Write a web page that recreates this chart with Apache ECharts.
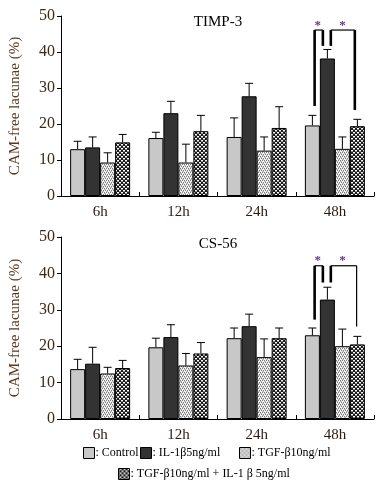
<!DOCTYPE html>
<html><head><meta charset="utf-8">
<script src="https://cdn.jsdelivr.net/npm/echarts@6/dist/echarts.min.js"></script>
<style>html,body{margin:0;padding:0;background:#fff}#c{width:379px;height:491px}</style>
</head><body><div id="c"></div>
<script>
const categories = ['6h','12h','24h','48h'];
const seriesNames = ['Control','IL-1β5ng/ml','TGF-β10ng/ml','TGF-β10ng/ml + IL-1 β 5ng/ml'];
const yTicks = [0,10,20,30,40,50];

// TIMP-3 means and SD
const timpControl = [13.0,16.1,16.4,19.6];
const timpControlSD = [2.2,1.6,5.3,2.8];
const timpIL = [13.5,23.0,27.7,38.2];
const timpILSD = [2.9,3.3,3.6,2.5];
const timpTGF = [9.3,9.3,12.6,13.1];
const timpTGFSD = [2.7,5.1,3.8,3.3];
const timpCombo = [14.9,18.0,18.9,19.4];
const timpComboSD = [2.2,4.4,5.9,1.9];

// CS-56 means and SD
const csControl = [13.7,19.7,22.2,23.0];
const csControlSD = [2.7,2.5,2.8,2.0];
const csIL = [15.2,22.5,25.5,32.8];
const csILSD = [4.5,3.4,3.3,3.4];
const csTGF = [12.5,14.7,17.0,20.0];
const csTGFSD = [1.7,3.3,5.0,4.7];
const csCombo = [14.0,18.0,22.2,20.5];
const csComboSD = [2.1,3.0,2.8,2.2];

// significance brackets: [category, barPos1, y1, barPos2, y2, thick]
const timpBrackets = [
  [3, 0.15, 25.0, 0.15, 46.1, 1],
  [3, 0.15, 46.1, 0.70, 46.1, 0],
  [3, 0.70, 46.1, 0.70, 41.7, 1],
  [3, 1.23, 41.7, 1.23, 46.1, 1],
  [3, 1.23, 46.1, 2.83, 46.1, 0],
  [3, 2.83, 46.1, 2.83, 23.9, 1]
];
const timpStars = [[3, 0.35, 47.4], [3, 2.0, 47.4]];
const csBrackets = [
  [3, 0.15, 27.3, 0.15, 42.1, 1],
  [3, 0.15, 42.1, 0.70, 42.1, 0],
  [3, 0.70, 42.1, 0.70, 37.5, 1],
  [3, 1.23, 37.5, 1.23, 42.1, 1],
  [3, 1.23, 42.1, 2.95, 42.1, 0],
  [3, 2.95, 42.1, 2.95, 25.4, 0]
];
const csStars = [[3, 0.35, 43.4], [3, 2.0, 43.4]];

const BAR_W = 15;
const serif = '"Liberation Serif","DejaVu Serif",serif';

function makePattern(kind){
  const c = document.createElement('canvas');
  const ctx = c.getContext('2d');
  c.width = 4; c.height = 4;
  if (kind === 'tgf') {
    ctx.fillStyle = '#f4f4f4'; ctx.fillRect(0,0,4,4);
    ctx.fillStyle = '#7a7a7a';
    ctx.fillRect(0,0,1,1); ctx.fillRect(2,0,1,1);
    ctx.fillRect(1,2,1,1); ctx.fillRect(3,2,1,1);
    ctx.fillStyle = '#b8b8b8';
    ctx.fillRect(0,1,1,1); ctx.fillRect(2,3,1,1); ctx.fillRect(1,1,1,1); ctx.fillRect(3,3,1,1);
  } else {
    ctx.fillStyle = '#1a1a1a'; ctx.fillRect(0,0,4,4);
    ctx.fillStyle = '#ffffff';
    ctx.fillRect(1,0,2,1);
    ctx.fillRect(3,2,1,1); ctx.fillRect(0,2,1,1);
    ctx.fillStyle = '#8a8a8a';
    ctx.fillRect(1,1,2,1); ctx.fillRect(3,3,1,1); ctx.fillRect(0,3,1,1);
  }
  return {image: c, repeat: 'repeat'};
}
const colors = ['#c8c8c8', '#333333', makePattern('tgf'), makePattern('combo')];

const chart = echarts.init(document.getElementById('c'), null, {renderer:'canvas'});

function errData(means, sds, barIdx){
  return means.map((m,i)=>[i, m, m+sds[i], barIdx]);
}

function errSeries(gi, arr){
  return {
    type:'custom', xAxisIndex:gi, yAxisIndex:gi, z:5, silent:true,
    data: arr,
    renderItem: function(params, api){
      const base = api.coord([api.value(0), api.value(1)]);
      const top = api.coord([api.value(0), api.value(2)]);
      const x = base[0] + (api.value(3) - 1.5) * BAR_W;
      return {type:'group', children:[
        {type:'line', shape:{x1:x, y1:base[1], x2:x, y2:top[1]}, style:{stroke:'#000', lineWidth:1}},
        {type:'line', shape:{x1:x-4, y1:top[1], x2:x+4, y2:top[1]}, style:{stroke:'#000', lineWidth:1}}
      ]};
    }
  };
}

function bracketSeries(gi, segs){
  return {
    type:'custom', xAxisIndex:gi, yAxisIndex:gi, z:6, silent:true,
    data: segs,
    renderItem: function(params, api){
      const p1 = api.coord([api.value(0), api.value(2)]);
      const p2 = api.coord([api.value(0), api.value(4)]);
      const x1 = p1[0] + (api.value(1) - 1.5) * BAR_W;
      const x2 = p2[0] + (api.value(3) - 1.5) * BAR_W;
      return {type:'line', shape:{x1:x1, y1:p1[1], x2:x2, y2:p2[1]},
        style:{stroke:'#000', lineWidth: api.value(5) ? 2.6 : 1.2}};
    }
  };
}

function starSeries(gi, stars){
  return {
    type:'custom', xAxisIndex:gi, yAxisIndex:gi, z:6, silent:true,
    data: stars,
    renderItem: function(params, api){
      const p = api.coord([api.value(0), api.value(2)]);
      const x = p[0] + (api.value(1) - 1.5) * BAR_W;
      return {type:'text', x:x, y:p[1], style:{text:'*', fill:'#5a3a8a', font:'bold 13px ' + serif, textAlign:'center', textVerticalAlign:'middle'}};
    }
  };
}

function barSeries(gi, name, data, idx){
  return {
    type:'bar', name:name, xAxisIndex:gi, yAxisIndex:gi, data:data,
    barWidth: BAR_W, barGap:'0%',
    itemStyle:{color: colors[idx], borderColor:'#000', borderWidth:1},
    emphasis:{disabled:true}
  };
}

const grids = [
  {left:52, top:16, width:322, height:180},
  {left:52, top:237, width:322, height:182}
];

function xAx(gi){
  return {type:'category', gridIndex:gi, data:categories,
    axisLine:{lineStyle:{color:'#000', width:1}},
    axisTick:{show:true, inside:true, length:4, alignWithLabel:false, lineStyle:{color:'#000'}},
    axisLabel:{fontFamily:serif, fontSize:15, color:'#2a1a10', margin:9}
  };
}
function yAx(gi){
  return {type:'value', gridIndex:gi, min:0, max:50, interval:10,
    name:'CAM-free lacunae (%)', nameLocation:'middle', nameGap:38, nameRotate:90,
    nameTextStyle:{fontFamily:serif, fontSize:15, color:'#5a3a1e'},
    axisLine:{show:true, lineStyle:{color:'#000', width:1}},
    axisTick:{show:true, length:4, lineStyle:{color:'#000'}},
    axisLabel:{fontFamily:serif, fontSize:16, color:'#3a2a1a', margin:6,
      formatter: v => yTicks.includes(v) ? String(v) : ''},
    splitLine:{show:false}
  };
}

const legendBase = {
  itemWidth:11, itemHeight:11, orient:'horizontal', selectedMode:false, icon:'rect',
  textStyle:{fontFamily:serif, fontSize:12, color:'#000', padding:[0,0,0,-4]},
  itemStyle:{borderColor:'#000', borderWidth:1},
  formatter: n => ': ' + n
};

const option = {
  animation:false,
  title:[
    {text:'TIMP-3', left:213, top:10, textAlign:'center', textStyle:{fontFamily:serif, fontSize:15, fontWeight:'normal', color:'#000'}},
    {text:'CS-56', left:213, top:232, textAlign:'center', textStyle:{fontFamily:serif, fontSize:15, fontWeight:'normal', color:'#000'}}
  ],
  grid: grids,
  xAxis: [xAx(0), xAx(1)],
  yAxis: [yAx(0), yAx(1)],
  legend: [
    Object.assign({}, legendBase, {data:[seriesNames[0]], left:78, top:442}),
    Object.assign({}, legendBase, {data:[seriesNames[1]], left:135, top:442}),
    Object.assign({}, legendBase, {data:[seriesNames[2]], left:234, top:442}),
    Object.assign({}, legendBase, {data:[seriesNames[3]], left:113, top:463})
  ],
  series: [
    barSeries(0, seriesNames[0], timpControl, 0),
    barSeries(0, seriesNames[1], timpIL, 1),
    barSeries(0, seriesNames[2], timpTGF, 2),
    barSeries(0, seriesNames[3], timpCombo, 3),
    barSeries(1, seriesNames[0], csControl, 0),
    barSeries(1, seriesNames[1], csIL, 1),
    barSeries(1, seriesNames[2], csTGF, 2),
    barSeries(1, seriesNames[3], csCombo, 3),
    errSeries(0, [].concat(errData(timpControl,timpControlSD,0), errData(timpIL,timpILSD,1), errData(timpTGF,timpTGFSD,2), errData(timpCombo,timpComboSD,3))),
    errSeries(1, [].concat(errData(csControl,csControlSD,0), errData(csIL,csILSD,1), errData(csTGF,csTGFSD,2), errData(csCombo,csComboSD,3))),
    bracketSeries(0, timpBrackets),
    bracketSeries(1, csBrackets),
    starSeries(0, timpStars),
    starSeries(1, csStars)
  ]
};
chart.setOption(option);
</script>
</body></html>
